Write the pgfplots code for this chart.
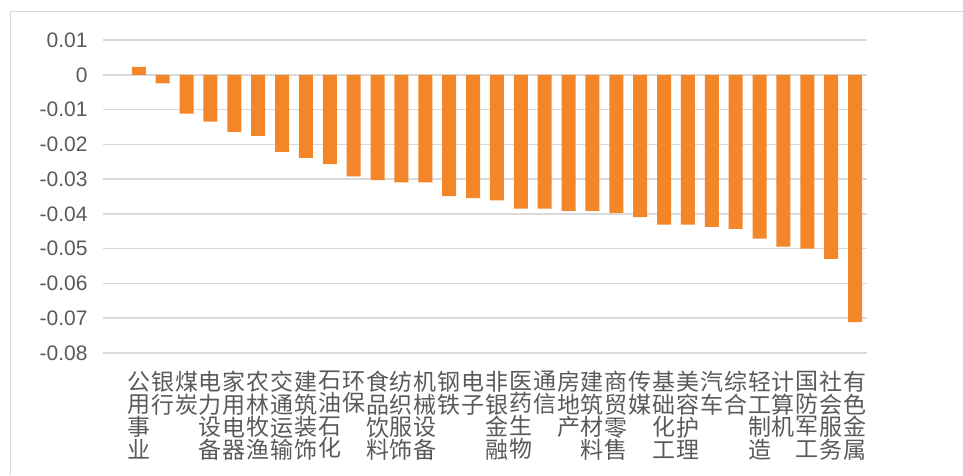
\documentclass[border=0pt]{standalone}
\usepackage{pgfplots}
\pgfplotsset{compat=1.18}
\usepackage{fontspec}
\setmainfont{Liberation Sans}
\newfontfamily\cjk{Noto Sans CJK SC}
\definecolor{barorange}{HTML}{F4862A}
\definecolor{gridgray}{HTML}{D9D9D9}
\definecolor{labelgray}{HTML}{595959}

\pgfplotstableread{
idx value
0   0.0023
1  -0.0025
2  -0.0112
3  -0.0135
4  -0.0164
5  -0.0176
6  -0.0222
7  -0.0239
8  -0.0257
9  -0.0292
10 -0.0303
11 -0.0309
12 -0.0309
13 -0.0349
14 -0.0355
15 -0.0361
16 -0.0385
17 -0.0385
18 -0.0391
19 -0.0391
20 -0.0397
21 -0.0409
22 -0.0431
23 -0.0431
24 -0.0437
25 -0.0443
26 -0.0471
27 -0.0494
28 -0.0500
29 -0.0529
30 -0.0711
}\industry

\begin{document}
\begin{tikzpicture}
\useasboundingbox (0pt,0pt) rectangle (963pt,475pt);
% chart frame (left and top edges)
\draw[gridgray, line width=1.6pt] (10.5pt,0pt) -- (10.5pt,463.5pt) -- (963pt,463.5pt);
\begin{axis}[
  at={(103pt,122pt)}, anchor=south west,
  scale only axis, width=764pt, height=313pt,
  xmin=-1.5, xmax=30.5,
  ymin=-0.08, ymax=0.01,
  axis line style={draw=none},
  major tick length=0pt,
  scaled y ticks=false,
  ytick={-0.08,-0.07,-0.06,-0.05,-0.04,-0.03,-0.02,-0.01,0,0.01},
  yticklabels={-0.08,-0.07,-0.06,-0.05,-0.04,-0.03,-0.02,-0.01,0,0.01},
  yticklabel style={font=\fontsize{21}{21}\selectfont, text=labelgray, xshift=-12pt},
  ymajorgrids,
  major grid style={gridgray, line width=1.6pt},
  xtick={0,...,30},
  xticklabels={
    {公\\用\\事\\业},{银\\行},{煤\\炭},{电\\力\\设\\备},{家\\用\\电\\器},
    {农\\林\\牧\\渔},{交\\通\\运\\输},{建\\筑\\装\\饰},{石\\油\\石\\化},{环\\保},
    {食\\品\\饮\\料},{纺\\织\\服\\饰},{机\\械\\设\\备},{钢\\铁},{电\\子},
    {非\\银\\金\\融},{医\\药\\生\\物},{通\\信},{房\\地\\产},{建\\筑\\材\\料},
    {商\\贸\\零\\售},{传\\媒},{基\\础\\化\\工},{美\\容\\护\\理},{汽\\车},
    {综\\合},{轻\\工\\制\\造},{计\\算\\机},{国\\防\\军\\工},{社\\会\\服\\务},
    {有\\色\\金\\属}},
  xticklabel style={font=\cjk\fontsize{23}{22.7}\selectfont, text=labelgray,
    align=center, anchor=north, inner sep=0pt, yshift=-18pt},
  clip=false,
]
\addplot[ybar, bar width=14pt, fill=barorange, draw=none] table[x=idx, y=value] {\industry};
\end{axis}
\end{tikzpicture}
\end{document}
